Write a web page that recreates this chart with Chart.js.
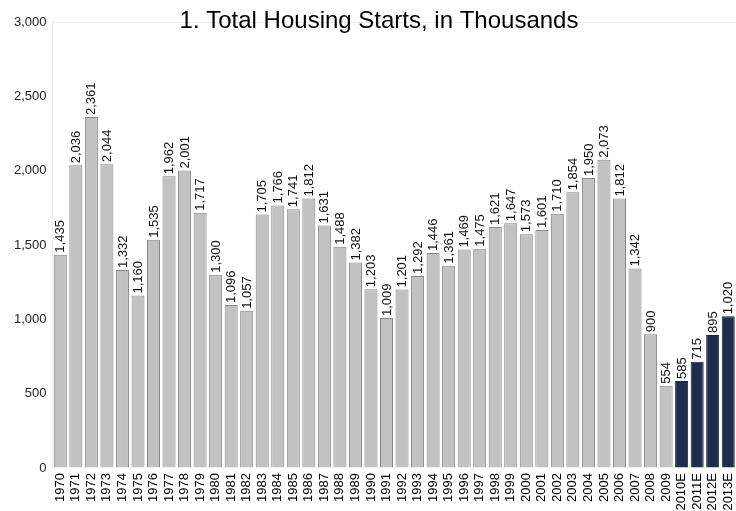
<!doctype html>
<html lang="en">
  <head>
    <meta charset="utf-8">
    <title>Total Housing Starts</title>
    <script src="https://cdn.jsdelivr.net/npm/chart.js@4.4.1/dist/chart.umd.min.js"></script>
    <style>
      html, body {
        margin: 0;
        padding: 0;
        background: #ffffff;
      }
      #wrap {
        width: 736px;
        height: 511px;
        position: relative;
      }
    </style>
  </head>
  <body>
    <div id="wrap">
      <canvas id="startsChart"></canvas>
    </div>
    <script>
      const years = ['1970', '1971', '1972', '1973', '1974', '1975', '1976', '1977', '1978', '1979',
        '1980', '1981', '1982', '1983', '1984', '1985', '1986', '1987', '1988', '1989',
        '1990', '1991', '1992', '1993', '1994', '1995', '1996', '1997', '1998', '1999',
        '2000', '2001', '2002', '2003', '2004', '2005', '2006', '2007', '2008', '2009',
        '2010E', '2011E', '2012E', '2013E'];
      const starts = [1435, 2036, 2361, 2044, 1332, 1160, 1535, 1962, 2001, 1717,
        1300, 1096, 1057, 1705, 1766, 1741, 1812, 1631, 1488, 1382,
        1203, 1009, 1201, 1292, 1446, 1361, 1469, 1475, 1621, 1647,
        1573, 1601, 1710, 1854, 1950, 2073, 1812, 1342, 900, 554,
        585, 715, 895, 1020];
      const yTicks = [0, 500, 1000, 1500, 2000, 2500, 3000];

      const FONT = '"Liberation Sans", Arial, sans-serif';
      const isEstimate = years.map(y => y.endsWith('E'));
      const fillColors = isEstimate.map(e => e ? '#1f2c4e' : '#c2c2c2');
      const edgeColors = isEstimate.map(e => e ? '#1a2440' : '#858585');

      const fmt = v => v.toLocaleString('en-US');

      // value labels written vertically just above each bar
      const barLabels = {
        id: 'barLabels',
        afterDatasetsDraw(chart) {
          const ctx = chart.ctx;
          const meta = chart.getDatasetMeta(0);
          ctx.save();
          ctx.font = '13px ' + FONT;
          ctx.fillStyle = '#111';
          ctx.textAlign = 'left';
          ctx.textBaseline = 'middle';
          meta.data.forEach((bar, i) => {
            ctx.save();
            ctx.translate(bar.x + 0.5, bar.y - 2);
            ctx.rotate(-Math.PI / 2);
            ctx.fillText(fmt(starts[i]), 0, 0);
            ctx.restore();
          });
          ctx.restore();
        }
      };

      // title sits over the top of the plot, across the 3,000 line
      const topTitle = {
        id: 'topTitle',
        afterDraw(chart) {
          const ctx = chart.ctx;
          ctx.save();
          ctx.font = '24px ' + FONT;
          ctx.fillStyle = '#000';
          ctx.textAlign = 'center';
          ctx.textBaseline = 'alphabetic';
          ctx.fillText('1. Total Housing Starts, in Thousands', 379, 28);
          ctx.restore();
        }
      };

      new Chart(document.getElementById('startsChart'), {
        type: 'bar',
        data: {
          labels: years,
          datasets: [{
            data: starts,
            backgroundColor: fillColors,
            borderColor: edgeColors,
            borderWidth: 1,
            barPercentage: 0.84,
            categoryPercentage: 1.0
          }]
        },
        options: {
          responsive: true,
          maintainAspectRatio: false,
          animation: false,
          layout: {
            padding: { top: 22, right: 0, left: 8, bottom: 0 }
          },
          plugins: {
            legend: { display: false },
            tooltip: { enabled: false }
          },
          scales: {
            x: {
              grid: { display: false, drawTicks: false },
              border: { display: false },
              afterFit(axis) {
                axis.paddingLeft = 0;
                axis.paddingRight = 0;
                axis.height = 43;
              },
              ticks: {
                autoSkip: false,
                maxRotation: 90,
                minRotation: 90,
                padding: 5,
                color: '#000',
                font: { family: FONT, size: 13 }
              }
            },
            y: {
              min: 0,
              max: 3000,
              afterBuildTicks(axis) {
                axis.ticks = yTicks.map(v => ({ value: v }));
              },
              grid: {
                drawTicks: false,
                color: c => c.tick && c.tick.value === 3000 ? '#ececec' : 'rgba(0,0,0,0)'
              },
              border: { display: true, color: '#ececec' },
              ticks: {
                padding: 6,
                color: '#222',
                font: { family: FONT, size: 13 },
                callback: v => fmt(v)
              }
            }
          }
        },
        plugins: [barLabels, topTitle]
      });
    </script>
  </body>
</html>
